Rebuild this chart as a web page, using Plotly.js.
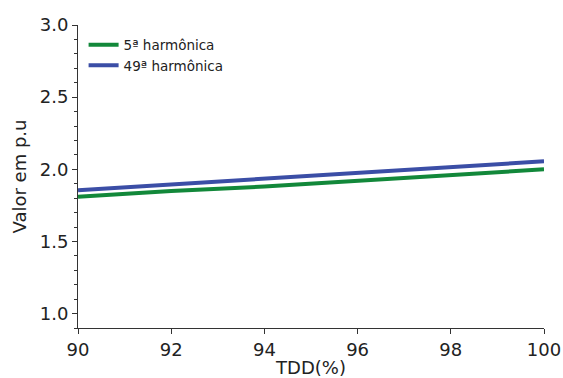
<!DOCTYPE html>
<html><head><meta charset="utf-8">
<script src="https://cdn.plot.ly/plotly-3.0.1.min.js"></script>
<style>html,body{margin:0;padding:0;background:#fff}#c{width:563px;height:378px}</style>
</head><body><div id="c"></div>
<script>
const tdd = [90, 92, 94, 96, 98, 100];
const h5 = [1.81, 1.85, 1.88, 1.92, 1.96, 2.00];
const h49 = [1.855, 1.895, 1.935, 1.975, 2.015, 2.055];
const names = ['5ª harmônica', '49ª harmônica'];
const font = 'DejaVu Sans, sans-serif';
const traces = [
  {x: tdd, y: h5, name: names[0], mode: 'lines', line: {color: '#12883a', width: 4}},
  {x: tdd, y: h49, name: names[1], mode: 'lines', line: {color: '#3b4ea6', width: 4}}
];
const layout = {
  width: 563, height: 378,
  margin: {l: 78, r: 19, t: 25, b: 50},
  paper_bgcolor: '#fff', plot_bgcolor: '#fff',
  font: {family: font, color: '#222'},
  showlegend: true,
  legend: {x: 0.012, y: 0.985, xanchor: 'left', yanchor: 'top', bgcolor: 'rgba(0,0,0,0)',
           font: {size: 13.5, family: font, color: '#222'}, tracegroupgap: 0},
  xaxis: {range: [90, 100], tickvals: [90, 92, 94, 96, 98, 100], showgrid: false, zeroline: false,
          showline: true, linecolor: '#333', linewidth: 1, ticks: 'outside', ticklen: 5, tickcolor: '#333',
          tickfont: {size: 18, family: font, color: '#222'},
          title: {text: 'TDD(%)', font: {size: 18, family: font, color: '#222'}, standoff: 6}},
  yaxis: {range: [0.9, 3.0], tickvals: [1.0, 1.5, 2.0, 2.5, 3.0], ticktext: ['1.0', '1.5', '2.0', '2.5', '3.0'],
          showgrid: false, zeroline: false,
          showline: true, linecolor: '#333', linewidth: 1, ticks: 'outside', ticklen: 5, tickcolor: '#333',
          minor: {dtick: 0.1, tick0: 0.9, ticks: 'outside', ticklen: 3, tickcolor: '#333', showgrid: false},
          tickfont: {size: 18, family: font, color: '#222'},
          title: {text: 'Valor em p.u', font: {size: 18, family: font, color: '#222'}, standoff: 8}}
};
Plotly.newPlot('c', traces, layout, {displayModeBar: false, staticPlot: true});
</script></body></html>
